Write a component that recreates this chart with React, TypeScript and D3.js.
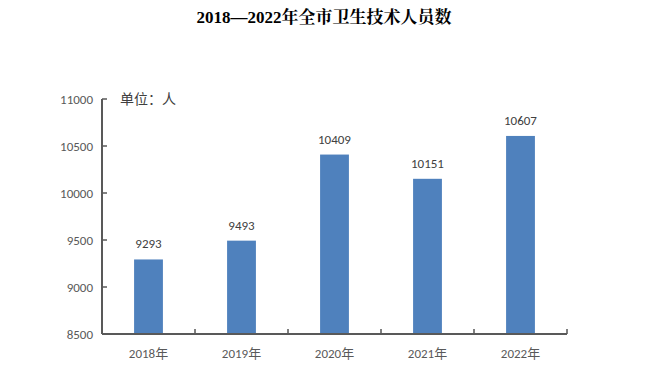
import React from "react";
import * as d3 from "d3";

const categories = ["2018年", "2019年", "2020年", "2021年", "2022年"];
const values = [9293, 9493, 10409, 10151, 10607];
const yTicks = [8500, 9000, 9500, 10000, 10500, 11000];
const title = "2018—2022年全市卫生技术人员数";
const unitLabel = "单位：人";

export default function App() {
  const W = 656, H = 367;
  const left = 102, right = 567, top = 99, bottom = 334;
  const x = d3.scaleBand<string>().domain(categories).range([left, right]).paddingInner(0.69).paddingOuter(0.345);
  const y = d3.scaleLinear().domain([8500, 11000]).range([bottom, top]);
  const step = x.step();
  const axisColor = "#595959";
  const font = "Calibri, Carlito, 'Liberation Sans', 'Noto Sans CJK SC', sans-serif";
  return (
    <svg width={W} height={H} style={{ position: "absolute", left: 0, top: 0, background: "#fff" }}>
      <text x={324} y={23} textAnchor="middle" fontSize={17} fontWeight="bold"
        fontFamily="'Liberation Serif', 'Noto Serif CJK SC', 'Noto Sans CJK SC', serif" fill="#000">{title}</text>
      {values.map((v, i) => (
        <g key={i}>
          <rect x={x(categories[i])!} y={y(v)} width={x.bandwidth()} height={bottom - y(v)} fill="#4F81BD" />
          <text x={x(categories[i])! + x.bandwidth() / 2} y={y(v) - 11} textAnchor="middle"
            fontSize={13} fill="#404040" fontFamily={font}>{v}</text>
          <text x={x(categories[i])! + x.bandwidth() / 2} y={358} textAnchor="middle"
            fontSize={13} fill={axisColor} fontFamily={font}>{categories[i]}</text>
        </g>
      ))}
      {yTicks.map((t) => (
        <g key={t}>
          <line x1={left} x2={left + 5} y1={y(t)} y2={y(t)} stroke={axisColor} strokeWidth={1.5} />
          <text x={left - 9} y={y(t) + 4.5} textAnchor="end" fontSize={13} fill={axisColor} fontFamily={font}>{t}</text>
        </g>
      ))}
      {d3.range(1, categories.length + 1).map((k) => (
        <line key={k} x1={left + k * step} x2={left + k * step} y1={bottom} y2={bottom - 5} stroke="#000" strokeWidth={1} />
      ))}
      <line x1={left} x2={left} y1={top} y2={bottom} stroke={axisColor} strokeWidth={2} />
      <line x1={left} x2={right} y1={bottom} y2={bottom} stroke={axisColor} strokeWidth={2} />
      <text x={120} y={104} fontSize={14} fill="#404040" fontFamily="'Noto Sans CJK SC', sans-serif">{unitLabel}</text>
    </svg>
  );
}
